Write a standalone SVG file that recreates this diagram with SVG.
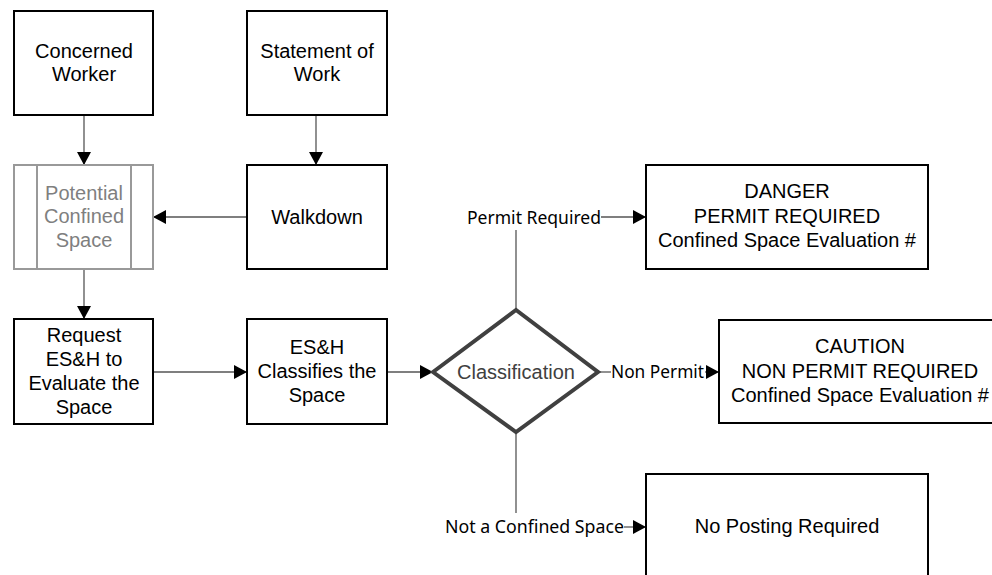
<svg xmlns="http://www.w3.org/2000/svg" width="992" height="575" viewBox="0 0 992 575">
<defs>
<style>
.box{fill:#fff;stroke:#000;stroke-width:2}
.gbox{fill:#fff;stroke:#999;stroke-width:2}
.t{font-family:"Liberation Sans",Arial,sans-serif;font-size:20px;fill:#000;text-anchor:middle}
.gt{fill:#7f7f7f}
.ct{fill:#404040}
.lbl{font-family:"Noto Sans","Open Sans",sans-serif;font-size:18px;fill:#000}
.c{fill:none;stroke:#555;stroke-width:1.3}
.ca{fill:none;stroke:#555;stroke-width:1.3;marker-end:url(#ah)}
</style>
<marker id="ah" markerUnits="userSpaceOnUse" markerWidth="13" markerHeight="14" refX="13" refY="7" orient="auto">
<path d="M0,0 L13,7 L0,14 z" fill="#000"/>
</marker>
</defs>
<rect width="992" height="575" fill="#fff"/>
<g id="connectors">
<path class="ca" d="M84,115 V165"/>
<path class="ca" d="M316,115 V165"/>
<path class="ca" d="M247,217 H153"/>
<path class="ca" d="M84,269 V319"/>
<path class="ca" d="M153,372 H247"/>
<path class="ca" d="M387,372 H433"/>
<path class="c" d="M516,310 V230"/>
<path class="ca" d="M601,217 H646"/>
<path class="c" d="M598,372 H611"/>
<path class="ca" d="M705,372 H719"/>
<path class="c" d="M516,432 V513"/>
<path class="ca" d="M624,527 H646"/>
<text class="lbl" x="467" y="224" textLength="134" lengthAdjust="spacingAndGlyphs">Permit Required</text>
<text class="lbl" x="611" y="378" textLength="93" lengthAdjust="spacingAndGlyphs">Non Permit</text>
<text class="lbl" x="445" y="533" textLength="179" lengthAdjust="spacingAndGlyphs">Not a Confined Space</text>
</g>
<g id="concerned-worker">
<rect class="box" x="14" y="11" width="139" height="104"/>
<text class="t" x="84" y="58">Concerned</text>
<text class="t" x="84" y="81">Worker</text>
</g>
<g id="statement-of-work">
<rect class="box" x="247" y="11" width="140" height="104"/>
<text class="t" x="317" y="58">Statement of</text>
<text class="t" x="317" y="81">Work</text>
</g>
<g id="potential-confined-space">
<rect class="gbox" x="14" y="165" width="139" height="104"/>
<path d="M37,165 V269 M131,165 V269" stroke="#999" stroke-width="2"/>
<text class="t gt" x="84" y="200">Potential</text>
<text class="t gt" x="84" y="223">Confined</text>
<text class="t gt" x="84" y="247">Space</text>
</g>
<g id="walkdown">
<rect class="box" x="247" y="165" width="140" height="104"/>
<text class="t" x="317" y="224">Walkdown</text>
</g>
<g id="request">
<rect class="box" x="14" y="319" width="139" height="105"/>
<text class="t" x="84" y="342">Request</text>
<text class="t" x="84" y="366">ES&amp;H to</text>
<text class="t" x="84" y="390">Evaluate the</text>
<text class="t" x="84" y="414">Space</text>
</g>
<g id="esh-classifies">
<rect class="box" x="247" y="319" width="140" height="105"/>
<text class="t" x="317" y="354">ES&amp;H</text>
<text class="t" x="317" y="378">Classifies the</text>
<text class="t" x="317" y="402">Space</text>
</g>
<g id="classification">
<polygon points="433,372 516,310 598,372 516,432" fill="#fff" stroke="#404040" stroke-width="4" stroke-linejoin="miter"/>
<text class="t ct" x="516" y="379">Classification</text>
</g>
<g id="danger">
<rect class="box" x="646" y="165" width="282" height="104"/>
<text class="t" x="787" y="198">DANGER</text>
<text class="t" x="787" y="223">PERMIT REQUIRED</text>
<text class="t" x="787" y="247">Confined Space Evaluation #</text>
</g>
<g id="caution">
<rect class="box" x="719" y="320" width="283" height="103"/>
<text class="t" x="860" y="353">CAUTION</text>
<text class="t" x="860" y="378">NON PERMIT REQUIRED</text>
<text class="t" x="860" y="402">Confined Space Evaluation #</text>
</g>
<g id="no-posting">
<rect class="box" x="646" y="474" width="282" height="105"/>
<text class="t" x="787" y="533">No Posting Required</text>
</g>
</svg>
